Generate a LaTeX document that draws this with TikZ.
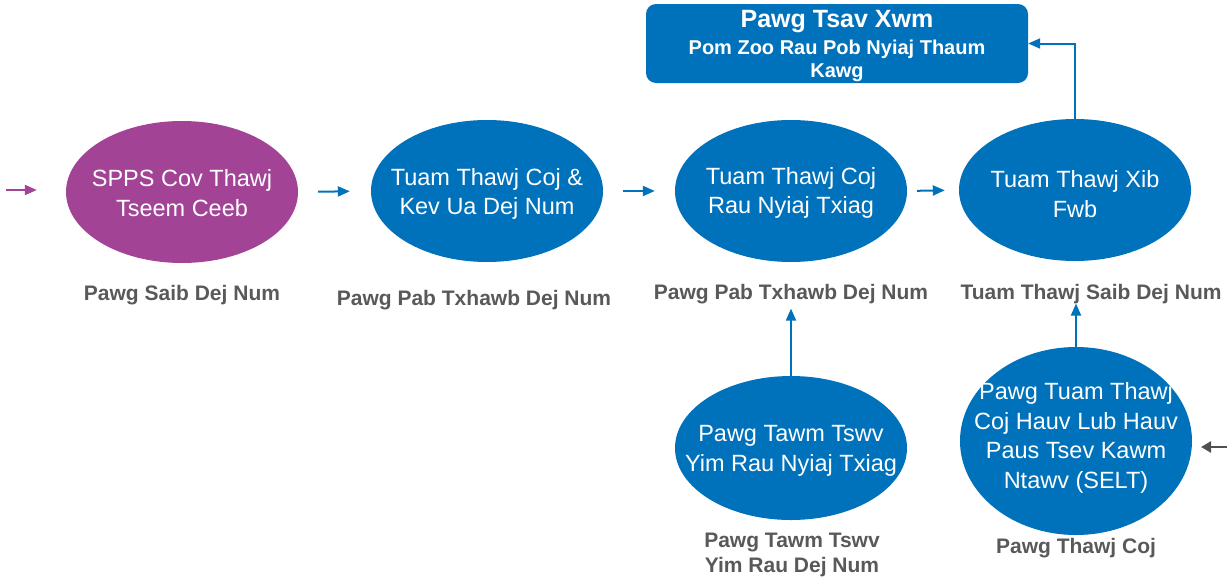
\documentclass[tikz,border=0pt]{standalone}
\usepackage{fontspec}
\setmainfont{Liberation Sans}
\usetikzlibrary{shapes.geometric,arrows.meta}
\definecolor{cblue}{RGB}{0,114,188}
\definecolor{cpurple}{RGB}{163,67,150}
\definecolor{cgray}{RGB}{89,89,89}
\definecolor{cdgray}{RGB}{80,80,80}
\begin{document}
\begin{tikzpicture}[x=1pt,y=-1pt,
  oval/.style={ellipse,minimum width=232pt,minimum height=142pt,inner sep=0pt,draw=none,fill=cblue},
  otext/.style={text=white,align=center,font=\fontsize{23.5}{29.5}\selectfont,inner sep=0pt},
  lab/.style={text=cgray,font=\bfseries\fontsize{21}{25}\selectfont,inner sep=0pt,align=center},
  arr/.style={draw=cblue,line width=2pt,-{Triangle[length=12pt,width=10pt]}},
  parr/.style={draw=cpurple,line width=2pt,-{Triangle[length=12pt,width=10pt]}},
  garr/.style={draw=cdgray,line width=2.8pt,-{Triangle[length=10pt,width=11pt]}},
  topbox/.style={rectangle,rounded corners=10pt,fill=cblue,minimum width=382pt,minimum height=79pt,inner sep=0pt}]
\useasboundingbox (0,0) rectangle (1227,581);

% top box
\node[topbox] (box) at (837,43.5) {};
\node[text=white,align=center,inner sep=0pt,font=\bfseries\fontsize{20}{23.5}\selectfont] (boxtext) at (837,46)
  {{\fontsize{25}{27}\selectfont Pawg Tsav Xwm}\\[3.5pt]Pom Zoo Rau Pob Nyiaj Thaum\\Kawg};

% ellipses
\node[oval,fill=cpurple] (e1) at (182,192) {};
\node[otext] (t1) at (182,193) {SPPS Cov Thawj\\Tseem Ceeb};
\node[oval] (e2) at (487,191) {};
\node[otext] (t2) at (487,194) {Tuam Thawj Coj \&\\Kev Ua Dej Num};
\node[oval] (e3) at (791,191) {};
\node[otext] (t3) at (791,193) {Tuam Thawj Coj\\Rau Nyiaj Txiag};
\node[oval] (e4) at (1075,190) {};
\node[otext] (t4) at (1075,194) {Tuam Thawj Xib\\Fwb};
\node[oval,minimum height=144pt] (e5) at (791,448) {};
\node[otext] (t5) at (791,451) {Pawg Tawm Tswv\\Yim Rau Nyiaj Txiag};
\node[oval,minimum height=188pt] (e6) at (1076,441) {};
\node[otext] (t6) at (1076,438) {Pawg Tuam Thawj\\Coj Hauv Lub Hauv\\Paus Tsev Kawm\\Ntawv (SELT)};

% labels
\node[lab,anchor=base] (l1) at (182,300) {Pawg Saib Dej Num};
\node[lab,anchor=base] (l2) at (474,305) {Pawg Pab Txhawb Dej Num};
\node[lab,anchor=base] (l3) at (791,299) {Pawg Pab Txhawb Dej Num};
\node[lab,anchor=base] (l4) at (1091,299) {Tuam Thawj Saib Dej Num};
\node[lab] (l5) at (792,555) {Pawg Tawm Tswv\\Yim Rau Dej Num};
\node[lab,anchor=base] (l6) at (1076,553) {Pawg Thawj Coj};

% connectors
\coordinate (inL) at (6,190);
\coordinate (inR) at (1227,447);
\coordinate (inRtip) at (1201,447);
\draw[parr] (inL) -- ([xshift=-29pt]e1.west |- inL);
\draw[arr,shorten <=20pt,shorten >=21pt] (e1.east) -- (e2.west);
\draw[arr,shorten <=20pt,shorten >=20pt] (e2.east) -- (e3.west);
\draw[arr,shorten <=10pt,shorten >=14pt] (e3.east) -- (e4.west);
\draw[arr,shorten >=5pt] (e5.north) -- (e5.north |- l3.south);
\draw[arr] (e6.north) -- (e6.north |- l4.south);
\draw[arr] (e4.north) |- (box.east);
\draw[garr] (inR) -- (inRtip);
\end{tikzpicture}
\end{document}
